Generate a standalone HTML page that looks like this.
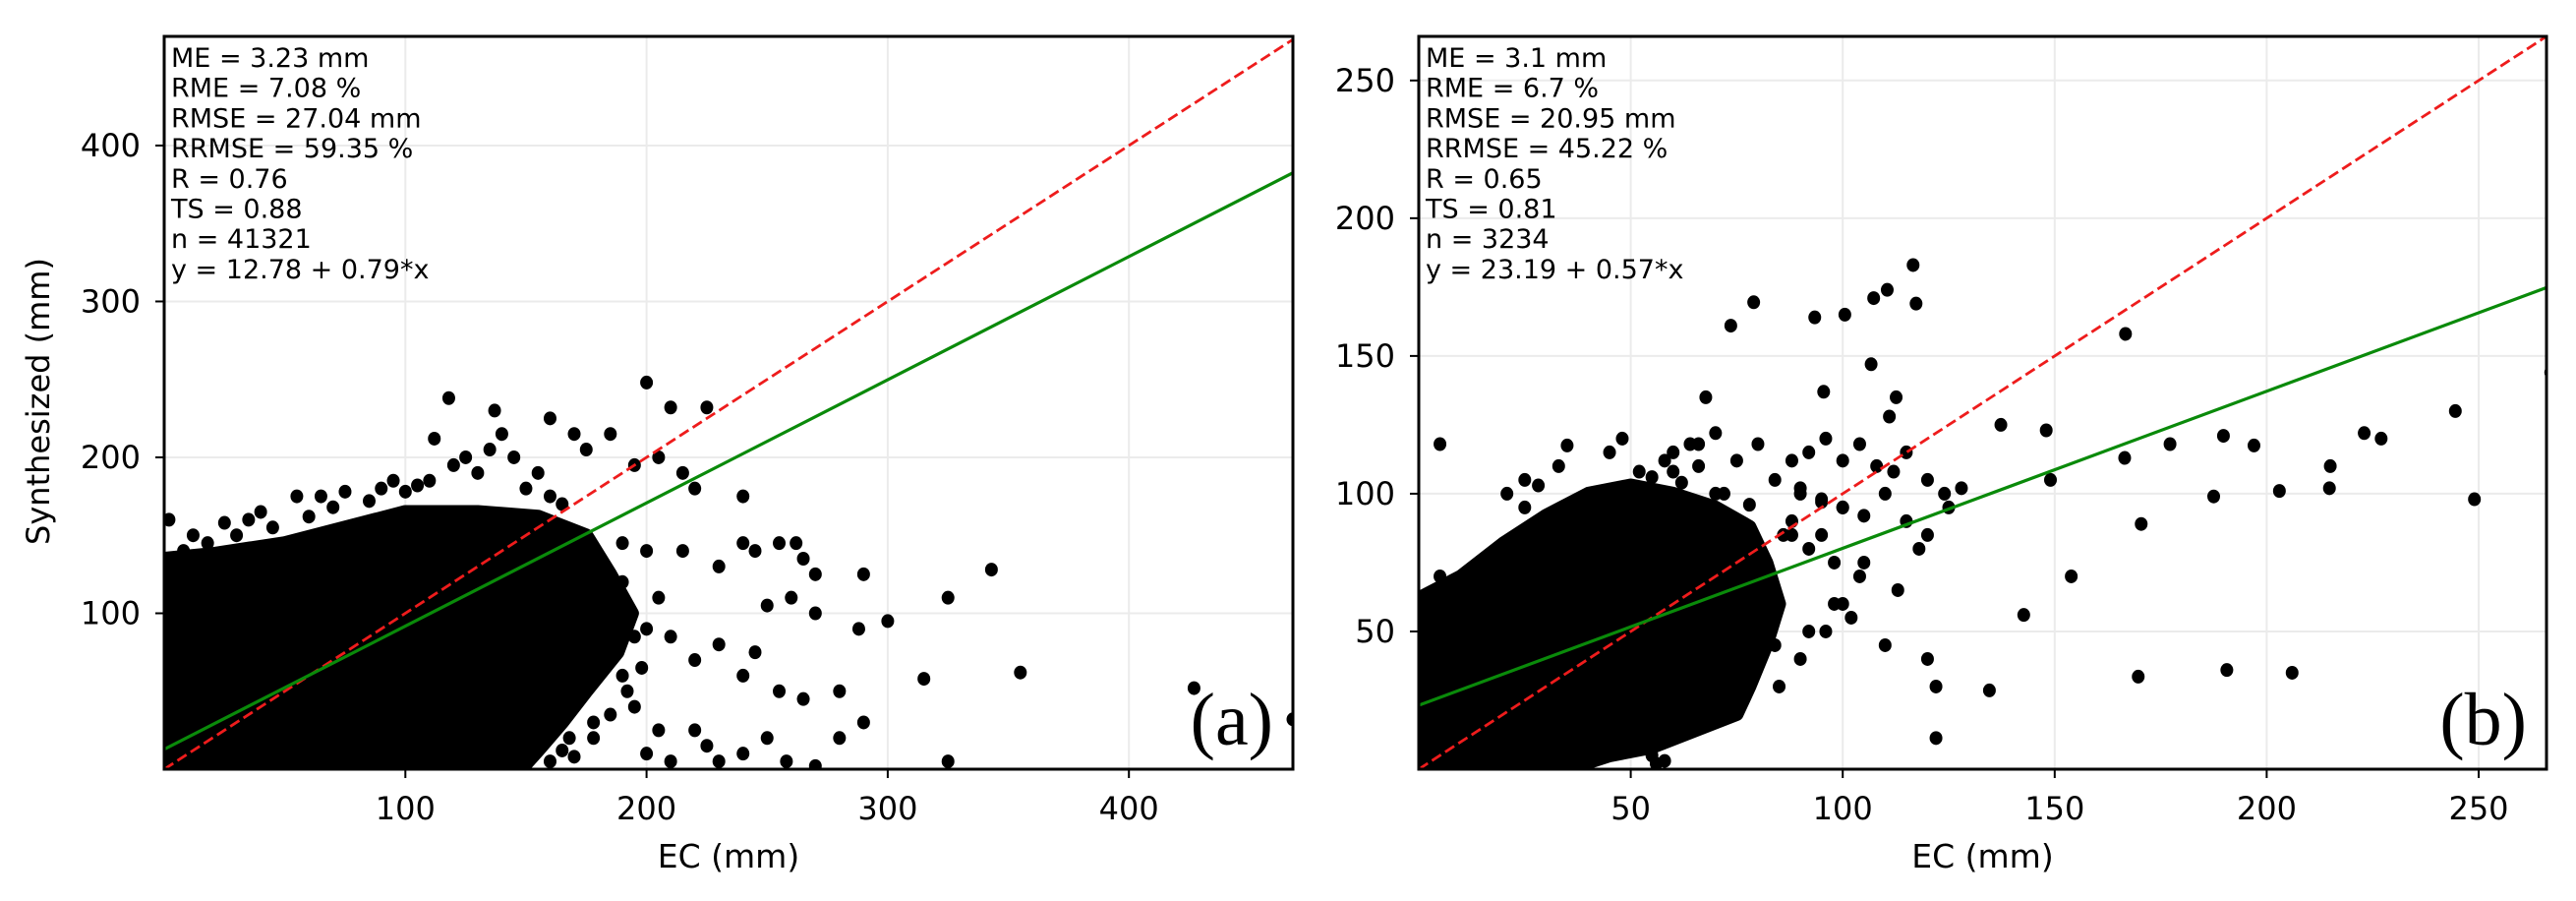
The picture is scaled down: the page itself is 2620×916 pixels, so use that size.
<!DOCTYPE html>
<html><head><meta charset="utf-8"><style>
body{margin:0;background:#fff;width:2620px;height:916px;overflow:hidden}
svg{display:block}
text{font-family:"DejaVu Sans","Liberation Sans",sans-serif;fill:#000}
</style></head><body>
<svg id="chart" width="2620" height="916"></svg>
<script>
// ----- Panel (a) data -----
const aStats = ["ME = 3.23 mm","RME = 7.08 %","RMSE = 27.04 mm","RRMSE = 59.35 %","R = 0.76","TS = 0.88","n = 41321","y = 12.78 + 0.79*x"];
const aXTicks = [100,200,300,400];
const aYTicks = [100,200,300,400];
const aFit = [12.78, 0.79];
const aBlobX = [0,0,20,50,75,100,130,155,175,185,194,188,175,165,155,148,0];
const aBlobY = [0,135,138,145,155,165,165,162,150,125,100,75,50,30,12,0,0];
const aPtsX = [2,12,25,40,55,75,95,118,137,160,170,185,205,175,200,210,225,195,215,220,240,190,200,215,230,240,245,255,262,265,270,290,325,343,315,355,300,288,260,270,250,245,230,210,200,220,240,255,265,280,290,280,250,240,225,220,205,200,195,180,270,325,258,230,427,468,210,190,185,175,150,130,160,110,90,100,8,18,30,45,60,70,85,105,120,135,145,155,165,140,125,112,65,35,172,180,188,195,178,168,160,165,170,178,185,192,198,205,190,182,172,162];
const aPtsY = [160,150,158,165,175,178,185,238,230,225,215,215,200,205,248,232,232,195,190,180,175,145,140,140,130,145,140,145,145,135,125,125,110,128,58,62,95,90,110,100,105,75,80,85,90,70,60,50,45,50,30,20,20,10,15,25,25,10,40,60,2,5,5,5,52,32,5,60,100,120,180,190,175,185,180,178,140,145,150,155,162,168,172,182,195,205,200,190,170,215,200,212,175,160,140,130,115,85,30,20,5,12,8,20,35,50,65,110,120,80,60,40];
// ----- Panel (b) data -----
const bStats = ["ME = 3.1 mm","RME = 6.7 %","RMSE = 20.95 mm","RRMSE = 45.22 %","R = 0.65","TS = 0.81","n = 3234","y = 23.19 + 0.57*x"];
const bXTicks = [50,100,150,200,250];
const bYTicks = [50,100,150,200,250];
const bFit = [23.19, 0.57];
const bBlobX = [0,0,10,20,30,40,50,60,70,78,82,85,82,78,75,55,45,35,0];
const bBlobY = [0,62,70,82,92,100,103,100,95,88,75,60,45,30,20,8,5,0,0];
const bPtsX = [116.6,110.5,107.3,117.3,79,73.6,93.4,100.5,166.7,106.7,67.7,95.5,112.6,111,267,244.5,223,227,197,189.8,177.2,148,137.3,166.5,215,214.8,203,187.5,249,149,170.4,153.9,142.7,169.7,190.6,206,134.6,122,35,28.2,20.8,60,64,70,80,88,92,96,100,104,108,112,115,120,124,128,90,95,100,105,110,115,120,125,118,105,98,92,100,110,120,122,113,5,8,2,12,15,45,55,37,56,58,48,40,95,88,60,66,72,85,45,30,25,25,33,45,52,58,66,75,84,90,95,100,88,15,8,5,48,55,62,70,78,86,92,98,104,84,90,96,102];
const bPtsY = [183,174,171,169,169.5,161,164,165,158,147,135,137,135,128,144,130,122,120,117.5,121,118,123,125,113,110,102,101,99,98,105,89,70,56,33.6,36,35,28.6,11.3,117.5,103,100,115,118,122,118,112,115,120,112,118,110,108,115,105,100,102,102,98,95,92,100,90,85,95,80,75,60,50,60,45,40,30,65,70,60,20,40,45,15,5,10,2,3,25,35,85,90,108,110,100,30,35,25,95,105,110,115,108,112,118,112,105,100,97,95,85,72,62,118,120,106,104,100,96,85,80,75,70,45,40,50,55];

const NS="http://www.w3.org/2000/svg";
const svg=document.getElementById('chart');
function mk(tag,attrs,parent){const e=document.createElementNS(NS,tag);for(const k in attrs)e.setAttribute(k,attrs[k]);(parent||svg).appendChild(e);return e;}

function panel(cfg){
  const g=mk('g',{});
  
  
  const X=v=>cfg.L+(v-cfg.xmin)*(cfg.R-cfg.L)/(cfg.xmax-cfg.xmin);
  const Y=v=>cfg.B-(v-cfg.ymin)*(cfg.B-cfg.T)/(cfg.ymax-cfg.ymin);
  const clip=mk('clipPath',{id:cfg.name+'-clip'},g);
  mk('rect',{x:cfg.L,y:cfg.T,width:cfg.R-cfg.L,height:cfg.B-cfg.T},clip);
  cfg.xt.forEach(t=>{const l=mk('line',{x1:X(t),x2:X(t),y1:cfg.T,y2:cfg.B,stroke:'#ebebeb','stroke-width':2},g);
    
    });
  cfg.yt.forEach(t=>{const l=mk('line',{x1:cfg.L,x2:cfg.R,y1:Y(t),y2:Y(t),stroke:'#ebebeb','stroke-width':2},g);
    
    });
  const pg=mk('g',{'clip-path':`url(#${cfg.name}-clip)`},g);
  let d='';cfg.bx.forEach((v,i)=>{d+=(i?'L':'M')+X(v)+','+Y(cfg.by[i]);});
  const blob=mk('path',{d:d+'Z',fill:'#000',stroke:'#000','stroke-width':14,'stroke-linejoin':'round'},pg);
  
  
  cfg.px.forEach((v,i)=>{const c=mk('ellipse',{cx:X(v),cy:Y(cfg.py[i]),rx:6.5,ry:7,fill:'#000'},pg);
    
    });
  const one=mk('line',{x1:X(cfg.xmin),y1:Y(cfg.xmin),x2:X(cfg.xmax),y2:Y(cfg.xmax),stroke:'#ee1c1c','stroke-width':2.8,'stroke-dasharray':'11,5'},pg);
  
  
  const fit=mk('line',{x1:X(cfg.xmin),y1:Y(cfg.fit[0]+cfg.fit[1]*cfg.xmin),x2:X(cfg.xmax),y2:Y(cfg.fit[0]+cfg.fit[1]*cfg.xmax),stroke:'#0a8a0a','stroke-width':3.2},pg);
  
  
  const fr=mk('rect',{x:cfg.L,y:cfg.T,width:cfg.R-cfg.L,height:cfg.B-cfg.T,fill:'none',stroke:'#000','stroke-width':3},g);
  
  
  cfg.xt.forEach(t=>{mk('line',{x1:X(t),x2:X(t),y1:cfg.B,y2:cfg.B+9,stroke:'#000','stroke-width':2},g);
    const tx=mk('text',{x:X(t),y:833,'font-size':32,'text-anchor':'middle'},g);tx.textContent=t;
    
    });
  cfg.yt.forEach(t=>{mk('line',{x1:cfg.L-9,x2:cfg.L,y1:Y(t),y2:Y(t),stroke:'#000','stroke-width':2},g);
    const tx=mk('text',{x:cfg.L-24,y:Y(t)+11,'font-size':32,'text-anchor':'end'},g);tx.textContent=t;
    
    });
  const st=mk('text',{x:cfg.L+7,y:68,'font-size':27},g);
  
  
  cfg.stats.forEach((s,i)=>{const ts=mk('tspan',{x:cfg.L+7,y:68+i*30.7},st);ts.textContent=s;});
  const xl=mk('text',{x:(cfg.L+cfg.R)/2,y:882,'font-size':33,'text-anchor':'middle'},g);xl.textContent='EC (mm)';
  
  
  const pl=mk('text',{x:cfg.R-20,y:757,'font-size':76,'text-anchor':'end',style:'font-family:"Liberation Serif",serif'},g);pl.textContent=cfg.letter;
  
  
}
panel({name:'panel-a',L:167,R:1315,T:37,B:782,xmin:0,xmax:468,ymin:0,ymax:470,xt:aXTicks,yt:aYTicks,fit:aFit,bx:aBlobX,by:aBlobY,px:aPtsX,py:aPtsY,stats:aStats,letter:'(a)'});
panel({name:'panel-b',L:1443,R:2590,T:37,B:782,xmin:0,xmax:266,ymin:0,ymax:266,xt:bXTicks,yt:bYTicks,fit:bFit,bx:bBlobX,by:bBlobY,px:bPtsX,py:bPtsY,stats:bStats,letter:'(b)'});
const yl=mk('text',{x:0,y:0,'font-size':32,'text-anchor':'middle',transform:'translate(50,408) rotate(-90)'});
yl.textContent='Synthesized (mm)';


</script>
</body></html>
